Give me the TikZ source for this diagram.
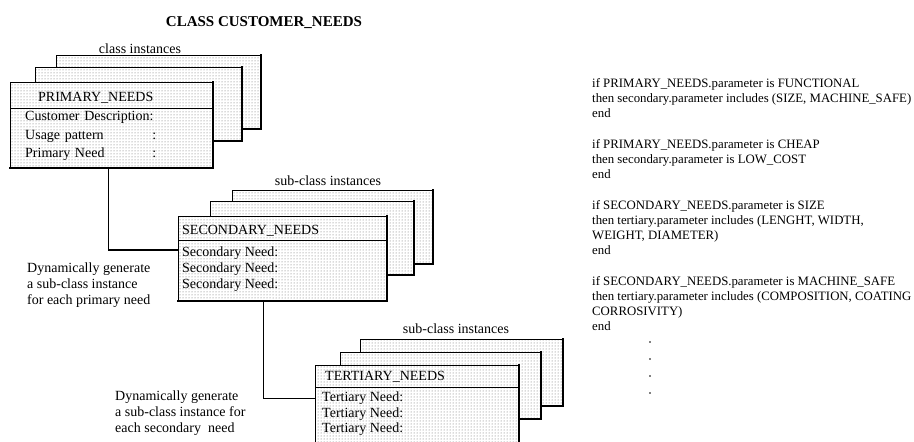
\documentclass[tikz,border=0pt]{standalone}
\usepackage{fontspec}
\setmainfont{Liberation Serif}
\usetikzlibrary{positioning, calc, patterns}

\begin{document}
\begin{tikzpicture}[
    x=1pt, y=-1pt,
    font=\fontsize{14}{17}\selectfont,
    card/.style={rectangle, draw=black, line width=0.9pt, inner sep=0pt, anchor=north west,
      preaction={fill=white}, pattern=dots, pattern color=black!60},
    rim/.style={line width=1.8pt, line cap=rect},
    divider/.style={line width=0.9pt},
    head/.style={anchor=west, inner sep=0pt, text height=10pt, text depth=3pt},
    row/.style={head, text width=131pt},
    tag/.style={inner sep=0pt, text height=10pt, text depth=3pt},
    note/.style={anchor=west, inner sep=0pt, align=left, font=\fontsize{14}{16}\selectfont},
    rule/.style={anchor=north west, inner sep=0pt, align=left, font=\fontsize{12.8}{15}\selectfont},
    link/.style={line width=1.3pt}
  ]
  \useasboundingbox (0,0) rectangle (914,442);
  \clip (0,0) rectangle (914,442);

  \node[font=\fontsize{15}{18}\selectfont\bfseries] (title) at (264,23) {CLASS CUSTOMER\_NEEDS};

  % instance cards, back to front
  \foreach \n/\x/\y/\w/\h in {pb/56/55/204/73, pm/35/67/206/73, pf/10/82/202/85,
      sb/232/190/200/73, sm/210/201/203/73, sf/178/216/208/84,
      tb/360/339/202/66, tm/340/352/200/66, tf/315/365/203/85}{
    \node[card, minimum width=\w pt, minimum height=\h pt] (\n) at (\x,\y) {};
    \draw[rim] (\n.north east) -- (\n.south east) -- (\n.south west);
  }
  \draw[divider] ($(pf.north west)+(0,26)$) -- ($(pf.north east)+(0,26)$);
  \draw[divider] ($(sf.north west)+(0,24)$) -- ($(sf.north east)+(0,24)$);
  \draw[divider] ($(tf.north west)+(0,22)$) -- ($(tf.north east)+(0,22)$);

  \node[tag] (pi) at (140,50) {class instances};
  \node[tag] (si) at (328,182) {sub-class instances};
  \node[tag] (ti) at (456,330) {sub-class instances};

  \node[head] (pfh) at (38,98) {PRIMARY\_NEEDS};
  \node[row] (pf1) at (25,117) {Customer Description:};
  \node[row] (pf2) at (25,136) {Usage pattern\hfill:};
  \node[row] (pf3) at (25,154) {Primary Need\hfill:};

  \node[head] (sfh) at (182,231) {SECONDARY\_NEEDS};
  \foreach \y [count=\i] in {253,269,285}
    \node[head] (sf\i) at (182,\y) {Secondary Need:};

  \node[head] (tfh) at (325,377) {TERTIARY\_NEEDS};
  \foreach \y [count=\i] in {398,414,429}
    \node[head] (tf\i) at (322,\y) {Tertiary Need:};

  \node[note] (n1) at (27,285) {Dynamically generate\\a sub-class instance\\for each primary need};
  \node[note] (n2) at (115,413) {Dynamically generate\\a sub-class instance for\\each secondary~~need};

  \draw[link] ($(pf.south west)!0.485!(pf.south east)$) |- ($(sf.north west)!0.4!(sf.south west)$);
  \draw[link] ($(sf.south west)!0.41!(sf.south east)$) |- ($(tf.north west)!0.39!(tf.south west)$);

  % rules
  \node[rule] (r1) at (592,78) {if PRIMARY\_NEEDS.parameter is FUNCTIONAL\\then secondary.parameter includes (SIZE, MACHINE\_SAFE)\\end};
  \node[rule, below=21.5pt of r1.south west, anchor=north west] (r2) {if PRIMARY\_NEEDS.parameter is CHEAP\\then secondary.parameter is LOW\_COST\\end};
  \node[rule, below=21.5pt of r2.south west, anchor=north west] (r3) {if SECONDARY\_NEEDS.parameter is SIZE\\then tertiary.parameter includes (LENGHT, WIDTH,\\WEIGHT, DIAMETER)\\end};
  \node[rule, below=21.5pt of r3.south west, anchor=north west] (r4) {if SECONDARY\_NEEDS.parameter is MACHINE\_SAFE\\then tertiary.parameter includes (COMPOSITION, COATING\\CORROSIVITY)\\end};
  \foreach \y in {342,359,376,393}
    \fill (650,\y) circle (0.9pt);
\end{tikzpicture}
\end{document}
